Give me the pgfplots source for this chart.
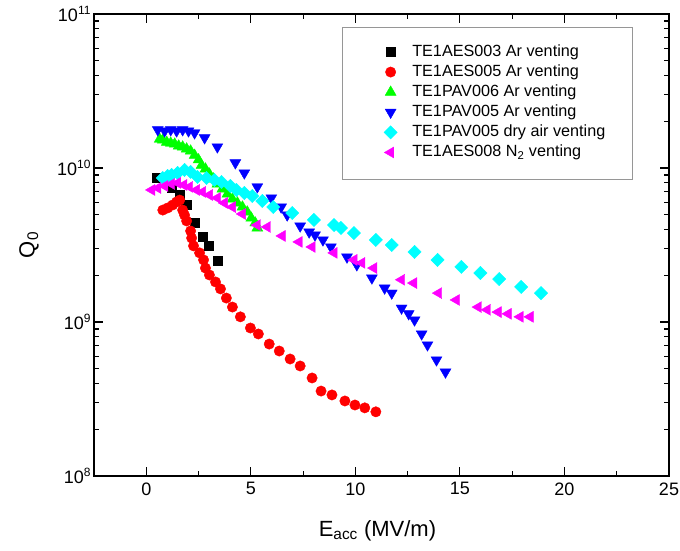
\documentclass[border=0pt]{standalone}
\usepackage{fontspec}
\setmainfont{Liberation Sans}
\usepackage{pgfplots}
\pgfplotsset{compat=1.18}
\definecolor{cB}{RGB}{0,0,0}
\definecolor{cR}{RGB}{255,0,0}
\definecolor{cG}{RGB}{0,255,0}
\definecolor{cBl}{RGB}{0,0,255}
\definecolor{cC}{RGB}{0,255,255}
\definecolor{cM}{RGB}{255,0,255}
\definecolor{cBox}{RGB}{150,150,150}
\newcommand{\tp}[1]{10\raisebox{0.75ex}{\fontsize{12}{12}\selectfont #1}}
\begin{document}
\begin{tikzpicture}
\path[use as bounding box] (0,0) rectangle (680pt,550pt);
\begin{axis}[
  at={(94pt,74pt)}, anchor=south west,
  scale only axis, width=575pt, height=462pt,
  xmin=-2.5, xmax=25, ymin=1e8, ymax=1e11,
  ymode=log,
  axis line style={line width=1.2pt},
  every tick/.style={black, line width=1.1pt},
  major tick length=9pt, minor tick length=5pt,
  tick align=inside,
  xtick={0,5,10,15,20,25},
  minor xtick={-2.5,2.5,7.5,12.5,17.5,22.5},
  ytick={1e8,1e9,1e10,1e11},
  yticklabels={\tp{8},\tp{9},\tp{10},\tp{11}},
  minor ytick={2e8,3e8,4e8,5e8,6e8,7e8,8e8,9e8,2e9,3e9,4e9,5e9,6e9,7e9,8e9,9e9,2e10,3e10,4e10,5e10,6e10,7e10,8e10,9e10},
  /pgf/number format/assume math mode=true,
  ticklabel style={font=\fontsize{18}{20}\selectfont},
  xticklabel style={yshift=-3pt},
  xlabel={E\textsubscript{acc} (MV/m)},
  ylabel={Q\textsubscript{0}},
  label style={font=\fontsize{22}{24}\selectfont},
  xlabel style={at={(axis description cs:0.493,-0.130)}, anchor=base},
  ylabel style={at={(axis description cs:-0.113,0.5)}, anchor=center},
  legend cell align=left,
  legend image code/.code={\draw[#1, only marks] plot coordinates {(0pt,0pt)};},
  legend style={at={(rel axis cs:0.504,0.935)}, anchor=north west, draw=none, fill=none,
    inner sep=0pt, row sep=4.6pt, column sep=15pt,
    font=\fontsize{16.2}{18}\selectfont,
    nodes={inner sep=0pt, text height=12pt, text depth=3.5pt}},
]
% TE1AES003 Ar venting
\addplot[only marks, mark=square*, mark size=4.6pt, color=cB] coordinates {
(0.49,8.61e9) (1.21,7.41e9) (1.60,6.68e9) (1.91,5.75e9) (2.31,4.40e9) (2.68,3.56e9) (2.99,3.13e9) (3.42,2.50e9)};
\addlegendentry{TE1AES003 Ar venting}
% TE1AES005 Ar venting
\addplot[only marks, mark=*, mark size=5.2pt, color=cR] coordinates {
(0.79,5.33e9) (1.02,5.50e9) (1.26,5.75e9) (1.45,6.02e9) (1.60,6.19e9) (1.74,5.33e9) (1.83,4.95e9) (1.93,4.53e9)
(2.12,3.90e9) (2.17,3.51e9) (2.26,3.12e9) (2.55,2.81e9) (2.74,2.53e9) (2.83,2.24e9) (3.02,2.02e9) (3.31,1.82e9)
(3.55,1.64e9) (3.83,1.43e9) (4.12,1.25e9) (4.50,1.08e9) (4.98,9.14e8) (5.36,8.36e8) (5.88,7.19e8) (6.36,6.48e8)
(6.88,5.75e8) (7.36,5.18e8) (7.93,4.33e8) (8.36,3.56e8) (8.88,3.36e8) (9.50,3.07e8) (9.98,2.89e8) (10.45,2.77e8) (10.98,2.61e8)};
\addlegendentry{TE1AES005 Ar venting}
% TE1PAV006 Ar venting
\addplot[only marks, mark=triangle*, mark size=6.3pt, color=cG] coordinates {
(0.64,1.54e10) (0.79,1.52e10) (0.98,1.47e10) (1.17,1.45e10) (1.36,1.43e10) (1.55,1.39e10) (1.74,1.37e10) (1.93,1.33e10)
(2.12,1.29e10) (2.31,1.21e10) (2.50,1.13e10) (2.64,1.04e10) (2.83,9.86e9) (3.02,9.14e9) (3.21,8.49e9) (3.40,7.87e9)
(3.64,7.31e9) (3.88,6.78e9) (4.12,6.29e9) (4.36,5.93e9) (4.60,5.58e9) (4.83,5.18e9) (5.02,4.73e9) (5.21,4.40e9) (5.31,4.08e9)};
\addlegendentry{TE1PAV006 Ar venting}
% TE1PAV005 Ar venting
\addplot[only marks, mark=triangle*, mark size=6.3pt, color=cBl, mark options={rotate=180}] coordinates {
(0.55,1.77e10) (0.88,1.74e10) (1.17,1.77e10) (1.45,1.74e10) (1.74,1.77e10) (2.02,1.74e10) (2.31,1.69e10) (2.79,1.57e10)
(3.40,1.37e10) (4.26,1.08e10) (4.69,9.28e9) (5.31,7.54e9) (5.98,6.39e9) (6.45,5.58e9) (6.74,4.95e9) (7.36,4.20e9)
(7.79,3.84e9) (8.07,3.67e9) (8.45,3.41e9) (8.83,3.07e9) (9.60,2.64e9) (10.07,2.35e9) (10.79,1.93e9) (11.40,1.66e9)
(11.74,1.54e9) (12.21,1.23e9) (12.55,1.13e9) (12.83,1.03e9) (13.17,8.36e8) (13.45,7.10e8) (13.88,5.67e8) (14.31,4.73e8)};
\addlegendentry{TE1PAV005 Ar venting}
% TE1PAV005 dry air venting
\addplot[only marks, mark=square*, mark size=4.7pt, color=cC, mark options={rotate=45}] coordinates {
(0.79,8.61e9) (1.02,8.87e9) (1.21,9.01e9) (1.50,9.28e9) (1.83,9.71e9) (2.12,9.43e9) (2.45,8.74e9) (2.88,8.61e9)
(3.26,8.36e9) (3.60,8.11e9) (4.02,7.64e9) (4.31,7.20e9) (4.69,6.88e9) (5.07,6.58e9) (5.55,6.11e9) (6.07,5.58e9)
(6.98,5.10e9) (8.02,4.60e9) (8.98,4.26e9) (9.31,4.08e9) (9.93,3.78e9) (10.98,3.41e9) (11.74,3.16e9) (12.83,2.85e9)
(13.93,2.53e9) (15.07,2.28e9) (15.98,2.08e9) (16.88,1.90e9) (17.93,1.69e9) (18.88,1.54e9)};
\addlegendentry{TE1PAV005 dry air venting}
% TE1AES008 N2 venting
\addplot[only marks, mark=triangle*, mark size=6.3pt, color=cM, mark options={rotate=90}] coordinates {
(0.26,7.20e9) (0.55,7.41e9) (0.88,7.64e9) (1.21,7.87e9) (1.50,8.00e9) (1.79,7.76e9) (2.07,7.54e9) (2.40,7.20e9)
(2.69,6.99e9) (3.02,6.68e9) (3.40,6.39e9) (3.74,5.93e9) (4.12,5.58e9) (4.60,5.03e9) (5.31,4.26e9) (5.79,4.14e9)
(6.50,3.62e9) (7.31,3.31e9) (7.93,3.07e9) (8.98,2.81e9) (9.93,2.53e9) (10.31,2.42e9) (10.88,2.24e9) (12.21,1.88e9)
(12.79,1.79e9) (13.98,1.54e9) (14.83,1.39e9) (15.88,1.25e9) (16.31,1.20e9) (16.83,1.16e9) (17.31,1.13e9) (17.88,1.08e9) (18.36,1.08e9)};
\addlegendentry{TE1AES008 N\textsubscript{2} venting}
\draw[cBox, line width=1pt] (rel axis cs:0.433,0.641) rectangle (rel axis cs:0.936,0.970);
\end{axis}
\end{tikzpicture}
\end{document}
